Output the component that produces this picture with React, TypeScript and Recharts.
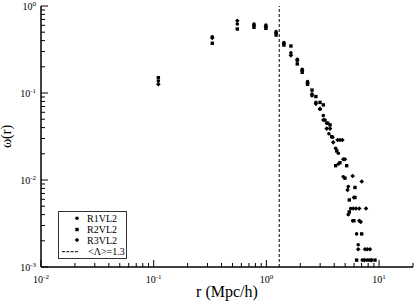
import React from 'react';
import { ScatterChart, Scatter, XAxis, YAxis, ReferenceLine, Legend } from 'recharts';

// ---- data ----
const r1X = [0.110, 0.331, 0.552, 0.776, 0.990, 1.22, 1.43, 1.65, 1.88, 2.08, 2.32, 2.54, 2.75, 2.99, 3.20, 3.43, 3.59, 3.87, 4.12, 4.35, 4.35, 4.81, 5.33, 5.33, 5.60, 5.83, 6.32, 6.53, 7.10, 7.77];
const r1Y = [0.137, 0.444, 0.621, 0.621, 0.605, 0.507, 0.379, 0.290, 0.244, 0.187, 0.135, 0.093, 0.078, 0.065, 0.055, 0.045, 0.034, 0.031, 0.0231, 0.0203, 0.0153, 0.0109, 0.0084, 0.0040, 0.0047, 0.0034, 0.0024, 0.0018, 0.0012, 0.0012];

const r2X = [0.110, 0.331, 0.552, 0.776, 0.990, 1.22, 1.43, 1.65, 1.88, 2.08, 2.32, 2.54, 2.75, 2.99, 3.20, 3.50, 3.67, 3.80, 4.21, 4.12, 4.50, 4.98, 5.16, 5.44, 5.44, 5.98, 6.11, 6.11, 7.01, 6.32, 8.19, 9.20];
const r2Y = [0.150, 0.373, 0.544, 0.569, 0.554, 0.464, 0.356, 0.347, 0.216, 0.173, 0.126, 0.108, 0.091, 0.078, 0.073, 0.045, 0.043, 0.0315, 0.0216, 0.0146, 0.0158, 0.0105, 0.0146, 0.0059, 0.0043, 0.0034, 0.0082, 0.0063, 0.0024, 0.0012, 0.0012, 0.0012];

const r3X = [0.110, 0.331, 0.552, 0.776, 0.990, 1.22, 1.43, 1.65, 1.88, 2.08, 2.32, 2.54, 2.75, 2.99, 3.20, 3.31, 3.43, 3.67, 3.92, 4.29, 4.50, 4.72, 4.81, 4.98, 5.25, 5.83, 5.90, 5.98, 6.24, 6.67, 6.67, 6.87, 7.01, 7.66, 6.53, 7.50, 7.86, 8.30, 7.39, 8.59];
const r3Y = [0.126, 0.430, 0.678, 0.600, 0.580, 0.490, 0.370, 0.271, 0.236, 0.180, 0.130, 0.097, 0.075, 0.066, 0.049, 0.049, 0.039, 0.039, 0.0271, 0.0288, 0.0288, 0.0288, 0.0173, 0.0173, 0.0077, 0.0111, 0.0047, 0.0063, 0.0047, 0.0047, 0.0034, 0.0033, 0.0096, 0.0047, 0.0016, 0.0016, 0.0016, 0.0016, 0.0012, 0.0012];

const lambdaMean = 1.3;

const xTicks = [0.01, 0.02, 0.03, 0.04, 0.05, 0.06, 0.07, 0.08, 0.09, 0.1, 0.2, 0.3, 0.4, 0.5, 0.6, 0.7, 0.8, 0.9, 1, 2, 3, 4, 5, 6, 7, 8, 9, 10, 20];
const yTicks = [0.001, 0.002, 0.003, 0.004, 0.005, 0.006, 0.007, 0.008, 0.009, 0.01, 0.02, 0.03, 0.04, 0.05, 0.06, 0.07, 0.08, 0.09, 0.1, 0.2, 0.3, 0.4, 0.5, 0.6, 0.7, 0.8, 0.9, 1];

const seriesNames = ['R1VL2', 'R2VL2', 'R3VL2'];
const refLabel = '<Λ>=1.3';

const toPts = (xs: number[], ys: number[]) => xs.map((x, i) => ({ x, y: ys[i] }));
const r1 = toPts(r1X, r1Y);
const r2 = toPts(r2X, r2Y);
const r3 = toPts(r3X, r3Y);

const FONT = '"Liberation Serif", "DejaVu Serif", serif';

const isMajor = (v: number) => {
  const l = Math.log10(v);
  return Math.abs(l - Math.round(l)) < 1e-6;
};
const expOf = (v: number) => String(Math.round(Math.log10(v)));

const makeXTick = (side: 'bottom' | 'top') => (props: any) => {
  const { x, y, payload } = props;
  const v = payload.value;
  const major = isMajor(v);
  const len = major ? 7 : 4;
  const dir = side === 'bottom' ? -1 : 1;
  return (
    <g>
      <line x1={x} y1={y} x2={x} y2={y + dir * len} stroke="#000" strokeWidth={1} />
      {side === 'bottom' && major && (
        <text x={x} y={y + 16} textAnchor="middle" style={{ fontFamily: FONT }} fontSize={10} fill="#000">
          10<tspan dy={-4} fontSize={7}>{expOf(v)}</tspan>
        </text>
      )}
    </g>
  );
};

const makeYTick = (side: 'left' | 'right') => (props: any) => {
  const { x, y, payload } = props;
  const v = payload.value;
  const major = isMajor(v);
  const len = major ? 7 : 4;
  const dir = side === 'left' ? 1 : -1;
  return (
    <g>
      <line x1={x} y1={y} x2={x + dir * len} y2={y} stroke="#000" strokeWidth={1} />
      {side === 'left' && major && (
        <text x={x - 5} y={y + 4} textAnchor="end" style={{ fontFamily: FONT }} fontSize={10} fill="#000">
          10<tspan dy={-4} fontSize={7}>{expOf(v)}</tspan>
        </text>
      )}
    </g>
  );
};

const CircleDot = (p: any) => <circle cx={p.cx} cy={p.cy} r={1.8} fill="#000" />;
const SquareDot = (p: any) => <rect x={p.cx - 1.7} y={p.cy - 1.7} width={3.4} height={3.4} fill="#000" />;
const DiamondDot = (p: any) => (
  <path d={`M${p.cx},${p.cy - 2.3}L${p.cx + 2.3},${p.cy}L${p.cx},${p.cy + 2.3}L${p.cx - 2.3},${p.cy}Z`} fill="#000" />
);

const LegendBox = () => (
  <svg width={70} height={49} style={{ display: 'block' }}>
    <rect x={0.5} y={0.5} width={68} height={47} fill="#fff" stroke="#333" strokeWidth={1} />
    <circle cx={19} cy={7.3} r={1.8} fill="#000" />
    <rect x={17.3} y={16.8} width={3.4} height={3.4} fill="#000" />
    <path d="M19,26.7L21.3,29L19,31.3L16.7,29Z" fill="#000" />
    <line x1={4} y1={40.7} x2={20} y2={40.7} stroke="#000" strokeWidth={1} strokeDasharray="3 1.3" />
    <g style={{ fontFamily: FONT }} fontSize={10} fill="#000">
      <text x={29} y={10.7}>{seriesNames[0]}</text>
      <text x={29} y={21.9}>{seriesNames[1]}</text>
      <text x={29} y={32.6}>{seriesNames[2]}</text>
      <text x={30} y={44}>{refLabel}</text>
    </g>
  </svg>
);

const XLabel = (props: any) => {
  const vb = props.viewBox;
  return (
    <text x={vb.x + vb.width / 2} y={vb.y + 30} textAnchor="middle" style={{ fontFamily: FONT }} fontSize={16} fill="#000">
      r (Mpc/h)
    </text>
  );
};

const YLabel = (props: any) => {
  const vb = props.viewBox;
  const cx = vb.x + 11;
  const cy = vb.y + vb.height / 2;
  return (
    <text x={cx} y={cy} transform={`rotate(-90, ${cx}, ${cy})`} textAnchor="middle" style={{ fontFamily: FONT }} fontSize={14} fill="#000">
      ω(r)
    </text>
  );
};

export default function App() {
  const axisLine = { stroke: '#000', strokeWidth: 1.5 };
  return (
    <div style={{ width: 415, height: 304, background: '#fff' }}>
      <style>{`body{margin:0;background:#fff;}`}</style>
      <ScatterChart width={415} height={304} margin={{ top: 6, right: 2, bottom: 0, left: 0 }}>
        <XAxis
          dataKey="x"
          type="number"
          scale="log"
          domain={[0.01, 20]}
          allowDataOverflow
          ticks={xTicks}
          interval={0}
          height={37}
          tickSize={0}
          tickMargin={0}
          tickLine={false}
          axisLine={axisLine}
          tick={makeXTick('bottom')}
          label={<XLabel />}
        />
        <XAxis
          xAxisId="top"
          orientation="top"
          dataKey="x"
          type="number"
          scale="log"
          domain={[0.01, 20]}
          allowDataOverflow
          ticks={xTicks}
          interval={0}
          height={0}
          tickSize={0}
          tickMargin={0}
          tickLine={false}
          axisLine={axisLine}
          tick={makeXTick('top')}
        />
        <YAxis
          dataKey="y"
          type="number"
          scale="log"
          domain={[0.001, 1]}
          allowDataOverflow
          ticks={yTicks}
          interval={0}
          width={41}
          tickSize={0}
          tickMargin={0}
          tickLine={false}
          axisLine={axisLine}
          tick={makeYTick('left')}
          label={<YLabel />}
        />
        <YAxis
          yAxisId="right"
          orientation="right"
          dataKey="y"
          type="number"
          scale="log"
          domain={[0.001, 1]}
          allowDataOverflow
          ticks={yTicks}
          interval={0}
          width={0}
          tickSize={0}
          tickMargin={0}
          tickLine={false}
          axisLine={axisLine}
          tick={makeYTick('right')}
        />
        <ReferenceLine x={lambdaMean} stroke="#000" strokeWidth={1} strokeDasharray="3 2" />
        <Scatter name={seriesNames[0]} data={r1} shape={CircleDot} isAnimationActive={false} />
        <Scatter name={seriesNames[1]} data={r2} shape={SquareDot} isAnimationActive={false} />
        <Scatter name={seriesNames[2]} data={r3} shape={DiamondDot} isAnimationActive={false} />
        <Legend
          layout="horizontal"
          verticalAlign="middle"
          align="center"
          content={() => <LegendBox />}
          wrapperStyle={{ position: 'absolute', left: 58, top: 211, width: 70, height: 49 }}
        />
      </ScatterChart>
    </div>
  );
}
